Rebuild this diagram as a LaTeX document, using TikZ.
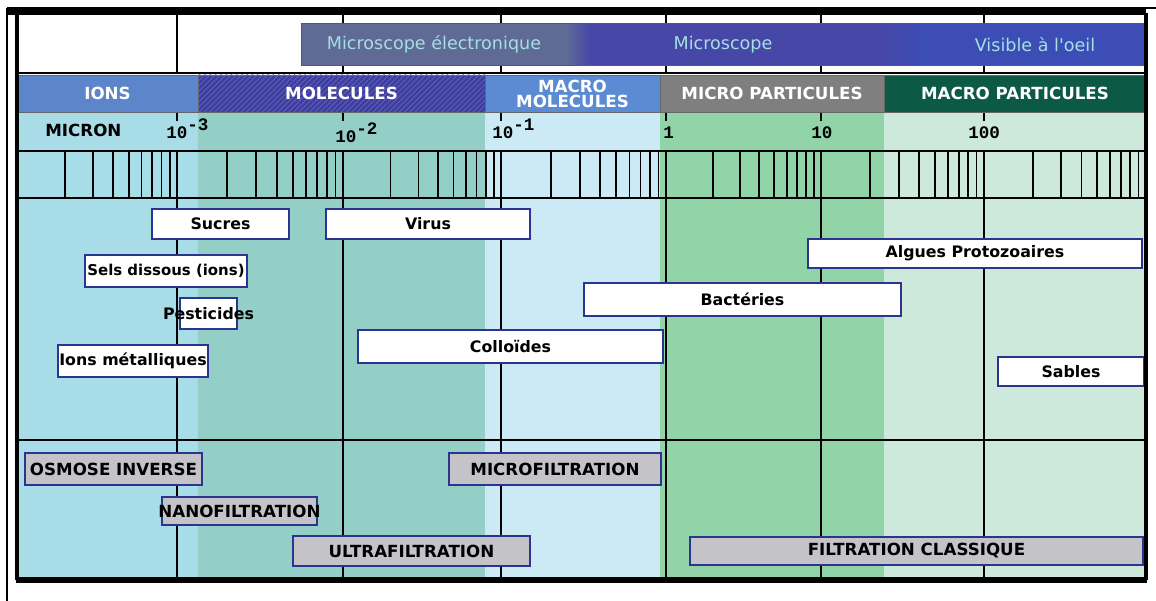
\documentclass[tikz,border=0pt]{standalone}
\usepackage{fontspec}
\setmainfont{DejaVu Sans}[Ligatures=TeXOff]
\newfontfamily\chiffres{Liberation Mono}
\usetikzlibrary{patterns}
\definecolor{bande1}{RGB}{168,220,231}
\definecolor{bande2}{RGB}{147,207,198}
\definecolor{bande3}{RGB}{204,234,245}
\definecolor{bande4}{RGB}{144,212,168}
\definecolor{bande5}{RGB}{205,233,220}
\definecolor{tete1}{RGB}{92,134,201}
\definecolor{tete2}{RGB}{61,62,158}
\definecolor{hachure}{RGB}{100,100,190}
\definecolor{tete3}{RGB}{91,139,210}
\definecolor{tete4}{RGB}{127,127,127}
\definecolor{tete5}{RGB}{12,90,69}
\definecolor{micro1}{RGB}{95,107,149}
\definecolor{micro2}{RGB}{71,71,168}
\definecolor{micro3}{RGB}{60,77,181}
\definecolor{textemicro}{RGB}{165,222,227}
\definecolor{bord}{RGB}{43,53,144}
\definecolor{gris}{RGB}{195,195,200}

% boite : style du cadre, style du texte, nom, x1, y1, x2, y2, texte
\newcommand{\Boite}[8]{%
  \node[#1, minimum width={(#6-#4)*0.02cm}, minimum height={(#7-#5)*0.02cm}]
    (#3) at ({(#4+#6)/2},{(#5+#7)/2}) {};
  \node[#2] (#3-t) at (#3.center) {#8};}

\begin{document}
\begin{tikzpicture}[x=0.02cm, y=-0.02cm]
% échelle des tailles (micron) et domaines des procédés de filtration
  \tikzset{boite/.style        = {draw=bord, line width=1.3pt, fill=white, inner sep=0pt},
           filtre/.style       = {boite, fill=gris},
           texte/.style        = {inner sep=0pt, font=\bfseries\fontsize{9}{11}\selectfont},
           texte filtre/.style = {inner sep=0pt, font=\bfseries\fontsize{9.5}{11}\selectfont},
           entete/.style       = {draw=black!60, line width=0.5pt, inner sep=0pt},
           entete texte/.style = {inner sep=0pt, text=white, align=center,
                                  font=\bfseries\fontsize{9.5}{8.5}\selectfont},
           micro/.style        = {inner sep=0pt},
           micro texte/.style  = {inner sep=0pt, text=textemicro, font=\fontsize{10}{12}\selectfont},
           chiffre/.style      = {inner sep=0pt, anchor=base west,
                                  font=\chiffres\bfseries\fontsize{10}{12}\selectfont},
           trait/.style        = {line width=1.2pt},
           fin/.style          = {line width=1pt}}

  \useasboundingbox (0,0) rectangle (1156,601);

%bandes de couleur
  \fill[bande1] (17,112) rectangle (198,580);
  \fill[bande2] (198,112) rectangle (485,580);
  \fill[bande3] (485,112) rectangle (660,580);
  \fill[bande4] (660,112) rectangle (884,580);
  \fill[bande5] (884,112) rectangle (1146,580);

%graduations
  \foreach \a/\b in {17/177, 177/343, 343/501, 501/666, 666/821, 821/984, 984/1146}
    \foreach \k in {2,...,9}
      \draw[fin] ({\a+(\b-\a)*log10(\k)},151) -- ++(0,47);
  \foreach \x in {177, 343, 501, 666, 821, 984}{
    \draw[trait] (\x,15) -- (\x,73);
    \draw[trait] (\x,112) -- (\x,121);
    \draw[trait] (\x,151) -- (\x,580);}

%lignes horizontales
  \draw[trait] (17,73) -- (1146,73);
  \draw[trait] (17,151) -- (1146,151);
  \draw[trait] (17,198) -- (1146,198);
  \draw[trait] (17,440) -- (1146,440);

%microscopes
  \Boite{micro, fill=micro1}{micro texte}{electronique}{302}{24}{566}{65}{Microscope électronique}
  \Boite{micro, fill=micro2}{micro texte}{microscope}{566}{24}{880}{65}{Microscope}
  \Boite{micro, fill=micro3}{micro texte}{visible}{924}{24}{1146}{65}{Visible à l'oeil}
  \shade[left color=micro1, right color=micro2] (566,24) rectangle (590,65);
  \shade[left color=micro2, right color=micro3] (880,24) rectangle (924,65);
  \draw[black!65, line width=0.6pt] (electronique.north west) rectangle (visible.south east);

%familles
  \Boite{entete, fill=tete1}{entete texte}{ions}{17}{75}{198}{112}{IONS}
  \Boite{entete, fill=tete2, postaction={pattern=north east lines, pattern color=hachure}}%
        {entete texte}{molecules}{198}{75}{485}{112}{MOLECULES}
  \Boite{entete, fill=tete3}{entete texte}{macromol}{485}{75}{660}{112}{MACRO\\MOLECULES}
  \Boite{entete, fill=tete4}{entete texte}{microp}{660}{75}{884}{112}{MICRO PARTICULES}
  \Boite{entete, fill=tete5}{entete texte}{macrop}{884}{75}{1146}{112}{MACRO PARTICULES}

%echelle
  \node[inner sep=0pt, anchor=base west, font=\bfseries\fontsize{9.5}{11}\selectfont]
    (micron) at (45,137) {MICRON};
  \node[chiffre] (dix-3) at (166,139) {10\raisebox{0.9ex}{-3}};
  \node[chiffre] (dix-2) at (335,143) {10\raisebox{0.9ex}{-2}};
  \node[chiffre] (dix-1) at (492,139) {10\raisebox{0.9ex}{-1}};
  \node[chiffre] (un)    at (663,139) {1};
  \node[chiffre] (dix)   at (811,139) {10};
  \node[chiffre] (cent)  at (968,139) {100};

%particules
  \Boite{boite}{texte}{sucres}{152}{209}{289}{239}{Sucres}
  \Boite{boite}{texte}{virus}{326}{209}{530}{239}{Virus}
  \Boite{boite}{texte}{algues}{808}{239}{1142}{268}{Algues Protozoaires}
  \Boite{boite}{texte, font=\bfseries\fontsize{8.5}{10}\selectfont}{sels}{85}{255}{247}{287}{Sels dissous (ions)}
  \Boite{boite}{texte}{bacteries}{584}{283}{901}{316}{Bactéries}
  \Boite{boite}{texte}{pesticides}{180}{298}{237}{329}{Pesticides}
  \Boite{boite}{texte}{colloides}{358}{330}{663}{363}{Colloïdes}
  \Boite{boite}{texte}{ionsmet}{58}{345}{208}{377}{Ions métalliques}
  \Boite{boite}{texte}{sables}{998}{357}{1144}{386}{Sables}

%filtrations
  \Boite{filtre}{texte filtre}{osmose}{25}{453}{202}{485}{OSMOSE INVERSE}
  \Boite{filtre}{texte filtre}{microfil}{449}{453}{661}{485}{MICROFILTRATION}
  \Boite{filtre}{texte filtre}{nanofil}{162}{497}{317}{525}{NANOFILTRATION}
  \Boite{filtre}{texte filtre}{ultrafil}{293}{536}{530}{566}{ULTRAFILTRATION}
  \Boite{filtre}{texte filtre}{classique}{690}{537}{1143}{565}{FILTRATION CLASSIQUE}

%cadre
  \draw[line width=4.5pt] (7,11) -- (1146,11);
  \draw[line width=0.8pt] (1146,8) -- (1156,8);
  \draw[line width=0.8pt] (7,8) -- (7,601);
  \draw[line width=2.2pt] (17,13) -- (17,580);
  \draw[line width=2.2pt] (1146,13) -- (1146,580);
  \draw[line width=3pt] (16,580) -- (1147,580);
\end{tikzpicture}
\end{document}
